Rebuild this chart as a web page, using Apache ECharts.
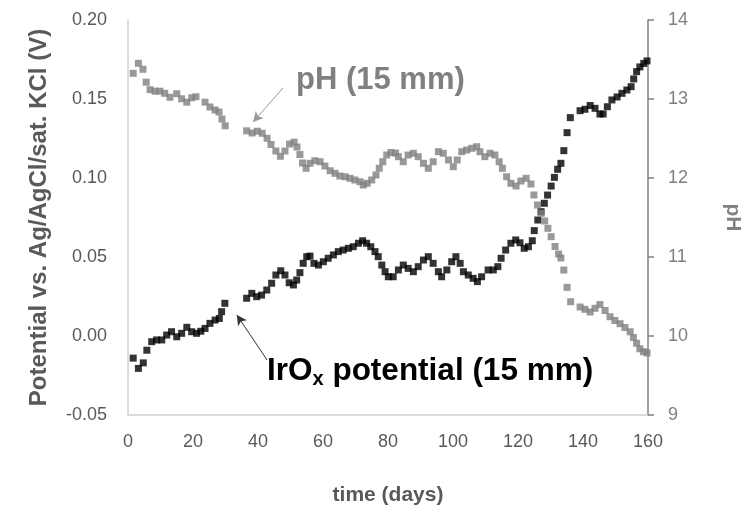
<!DOCTYPE html>
<html>
<head>
<meta charset="utf-8">
<script src="https://cdn.jsdelivr.net/npm/echarts@6/dist/echarts.min.js"></script>
<style>
html,body{margin:0;padding:0;background:#fff;overflow:hidden;}
#c{width:744px;height:506px;}
</style>
</head>
<body>
<div id="c"></div>
<script>
// time (days), potential (V) — IrOx potential (15 mm)
const potentialPoints = [
[1.6,-0.014],[3.2,-0.0205],[4.7,-0.017],[5.8,-0.009],[7.3,-0.0036],[8.8,-0.0025],[10.4,-0.0025],[11.9,0.0006],[13.4,0.0027],[15.0,-0.0005],
[16.5,0.0017],[18.1,0.0055],[19.6,0.0027],[21.1,0.0017],[22.4,0.003],[23.7,0.0048],[25.2,0.008],[26.8,0.0101],[28.1,0.0111],[28.8,0.0154],[29.8,0.0207],
[36.5,0.0239],[38.1,0.027],[39.6,0.0249],[41.1,0.0259],[42.7,0.0291],[44.2,0.0334],[45.5,0.0386],[47.0,0.0413],[48.3,0.0386],[49.6,0.0337],
[50.9,0.0323],[51.9,0.0354],[52.9,0.0401],[53.9,0.046],[55.0,0.0502],[56.0,0.0506],[57.2,0.046],[58.6,0.0449],[60.1,0.047],[61.6,0.0492],
[63.2,0.0513],[64.7,0.0534],[66.2,0.0544],[67.8,0.0555],[69.3,0.0565],[70.9,0.0587],[72.2,0.0603],[73.4,0.0587],[74.7,0.0565],[76.0,0.0534],
[77.0,0.0502],[78.1,0.0449],[79.1,0.0407],[80.1,0.0375],[81.6,0.0375],[83.2,0.0418],[84.7,0.0449],[86.2,0.0428],[87.8,0.0407],[89.3,0.0439],
[90.9,0.0481],[92.4,0.0502],[93.9,0.046],[95.5,0.0407],[96.5,0.0375],[98.1,0.0418],[99.6,0.047],[100.9,0.0502],[102.2,0.046],[103.2,0.0407],
[104.7,0.0386],[106.2,0.0365],[107.5,0.0344],[108.8,0.0375],[110.8,0.0418],[112.4,0.0418],[113.8,0.0439],[114.8,0.0492],[116.2,0.0544],[117.8,0.0587],
[119.3,0.0608],[120.6,0.059],[121.9,0.0555],[123.2,0.0565],[124.4,0.0603],[125.0,0.0667],[126.1,0.0734],[127.1,0.0787],[128.1,0.084],[129.1,0.0892],
[130.2,0.0949],[131.2,0.1004],[132.2,0.1055],[133.2,0.1093],[134.1,0.1173],[135.1,0.1287],[136.1,0.1382],[139.1,0.1426],[140.6,0.1435],[142.2,0.1459],
[143.7,0.1441],[145.2,0.1405],[146.2,0.1405],[147.5,0.1451],[148.9,0.1494],[150.5,0.1513],[152.0,0.1536],[153.5,0.1557],[154.8,0.1578],[155.6,0.1627],
[156.5,0.1673],[157.5,0.1703],[158.7,0.1725],[159.7,0.1741]
];
// time (days), pH — pH (15 mm)
const phPoints = [
[1.6,13.325],[3.2,13.452],[4.6,13.376],[5.6,13.213],[6.8,13.118],[8.3,13.099],[9.8,13.099],[11.3,13.072],[12.9,13.022],[15.0,13.067],
[16.5,13.003],[18.1,12.960],[19.6,13.015],[20.9,13.029],[23.7,12.960],[25.2,12.899],[26.8,12.861],[28.0,12.835],[28.9,12.747],[29.9,12.661],
[36.5,12.597],[38.2,12.570],[39.8,12.592],[41.3,12.566],[42.8,12.503],[44.0,12.424],[45.5,12.342],[46.9,12.275],[48.3,12.342],[49.7,12.430],
[51.1,12.453],[52.0,12.392],[52.9,12.297],[53.7,12.190],[54.8,12.123],[56.0,12.186],[57.5,12.219],[59.1,12.206],[60.6,12.152],[62.2,12.092],
[63.7,12.059],[65.2,12.025],[66.8,12.016],[68.3,11.996],[69.8,11.975],[71.4,11.953],[72.4,11.911],[73.6,11.933],[75.0,11.975],[76.3,12.038],
[77.3,12.123],[78.4,12.206],[79.6,12.291],[80.9,12.323],[82.3,12.316],[83.2,12.270],[84.7,12.206],[86.2,12.291],[87.8,12.313],[89.3,12.270],
[90.9,12.186],[92.4,12.123],[93.9,12.206],[95.5,12.333],[97.0,12.313],[98.6,12.228],[100.1,12.143],[101.3,12.228],[102.7,12.333],[104.2,12.354],
[105.8,12.376],[107.3,12.396],[108.3,12.333],[109.8,12.270],[111.4,12.313],[112.9,12.291],[114.2,12.206],[115.2,12.123],[116.5,12.016],[117.8,11.933],
[119.4,11.899],[120.9,11.962],[122.5,11.996],[124.0,11.924],[124.9,11.785],[126.0,11.658],[127.1,11.553],[128.2,11.456],[129.2,11.363],[130.2,11.257],
[131.4,11.133],[132.5,11.038],[133.2,10.987],[134.1,10.835],[135.1,10.616],[136.2,10.434],[139.1,10.367],[140.6,10.338],[142.2,10.304],[143.7,10.351],
[145.2,10.399],[146.8,10.323],[148.3,10.244],[149.8,10.196],[151.4,10.156],[152.9,10.108],[154.5,10.054],[155.5,9.981],[156.5,9.908],[157.5,9.838],
[158.6,9.801],[159.7,9.785]
];
const xTicks = {min:0, max:160, interval:20};
const leftTicks = {min:-0.05, max:0.20, interval:0.05};
const rightTicks = {min:9, max:14, interval:1};
// annotation arrows [tail, tip] in data coordinates
const phArrow = [[47.7,13.14],[38.5,12.71]];
const potArrow = [[42.8,-0.0152],[33.5,0.0133]];

const FONT = "'Liberation Sans', Arial, Helvetica, sans-serif";
const chart = echarts.init(document.getElementById('c'), null, {renderer:'canvas', width:744, height:506});
chart.setOption({
  animation:false,
  backgroundColor:'#fff',
  grid:{left:128, right:96, top:20, bottom:91, containLabel:false, outerBoundsMode:'none'},
  xAxis:{
    type:'value', min:xTicks.min, max:xTicks.max, interval:xTicks.interval,
    name:'time (days)', nameLocation:'middle', nameGap:70,
    nameTextStyle:{fontFamily:FONT, fontSize:21, fontWeight:'bold', color:'#595959'},
    axisLine:{show:true, onZero:false, lineStyle:{color:'#d0d0d0', width:1.5}},
    axisTick:{show:false},
    splitLine:{show:false},
    axisLabel:{fontFamily:FONT, fontSize:18, color:'#595959', margin:18}
  },
  yAxis:[{
    type:'value', min:leftTicks.min, max:leftTicks.max, interval:leftTicks.interval,
    position:'left',
    name:'Potential vs. Ag/AgCl/sat. KCl (V)', nameLocation:'middle', nameGap:77,
    nameTextStyle:{fontFamily:FONT, fontSize:24, fontWeight:'bold', color:'#595959'},
    axisLine:{show:true, onZero:false, lineStyle:{color:'#d0d0d0', width:1.5}},
    axisTick:{show:false},
    splitLine:{show:false},
    axisLabel:{fontFamily:FONT, fontSize:18, color:'#595959', margin:21,
      formatter:v=>v.toFixed(2)}
  },{
    type:'value', min:rightTicks.min, max:rightTicks.max, interval:rightTicks.interval,
    position:'right',
    name:'pH', nameLocation:'middle', nameGap:74, nameRotate:-90,
    nameTextStyle:{fontFamily:FONT, fontSize:21, fontWeight:'bold', color:'#808080'},
    axisLine:{show:true, onZero:false, lineStyle:{color:'#808080', width:1.5}},
    axisTick:{show:true, inside:false, length:6, lineStyle:{color:'#808080', width:1.5}},
    splitLine:{show:false},
    axisLabel:{fontFamily:FONT, fontSize:18, color:'#808080', margin:20}
  }],
  series:[{
    name:'IrOx potential (15 mm)', type:'scatter', yAxisIndex:0,
    symbol:'rect', symbolSize:7,
    itemStyle:{color:'#000'},
    data:potentialPoints,
    markLine:{
      silent:true, symbol:['none','arrow'], symbolSize:[8,10],
      label:{show:false},
      lineStyle:{color:'#333', width:1, type:'solid'},
      data:[[{coord:potArrow[0]},{coord:potArrow[1]}]]
    }
  },{
    name:'pH (15 mm)', type:'scatter', yAxisIndex:1,
    symbol:'rect', symbolSize:7,
    itemStyle:{color:'#808080'},
    data:phPoints,
    markLine:{
      silent:true, symbol:['none','arrow'], symbolSize:[8,10],
      label:{show:false},
      lineStyle:{color:'#999', width:1, type:'solid'},
      data:[[{coord:phArrow[0]},{coord:phArrow[1]}]]
    }
  }],
  graphic:[{
    type:'text', left:296, top:65,
    style:{text:'pH (15 mm)', fontFamily:FONT, fontSize:31, fontWeight:'bold', fill:'#808080'}
  },{
    type:'text', left:267, top:355,
    style:{
      text:'{a|IrO}{s|x}{a| potential (15 mm)}',
      rich:{
        a:{fontFamily:FONT, fontSize:31.5, fontWeight:'bold', fill:'#000', color:'#000'},
        s:{fontFamily:FONT, fontSize:20, fontWeight:'bold', fill:'#000', color:'#000', verticalAlign:'bottom', padding:[16,0,0,0]}
      }
    }
  }]
});
</script>
</body>
</html>
